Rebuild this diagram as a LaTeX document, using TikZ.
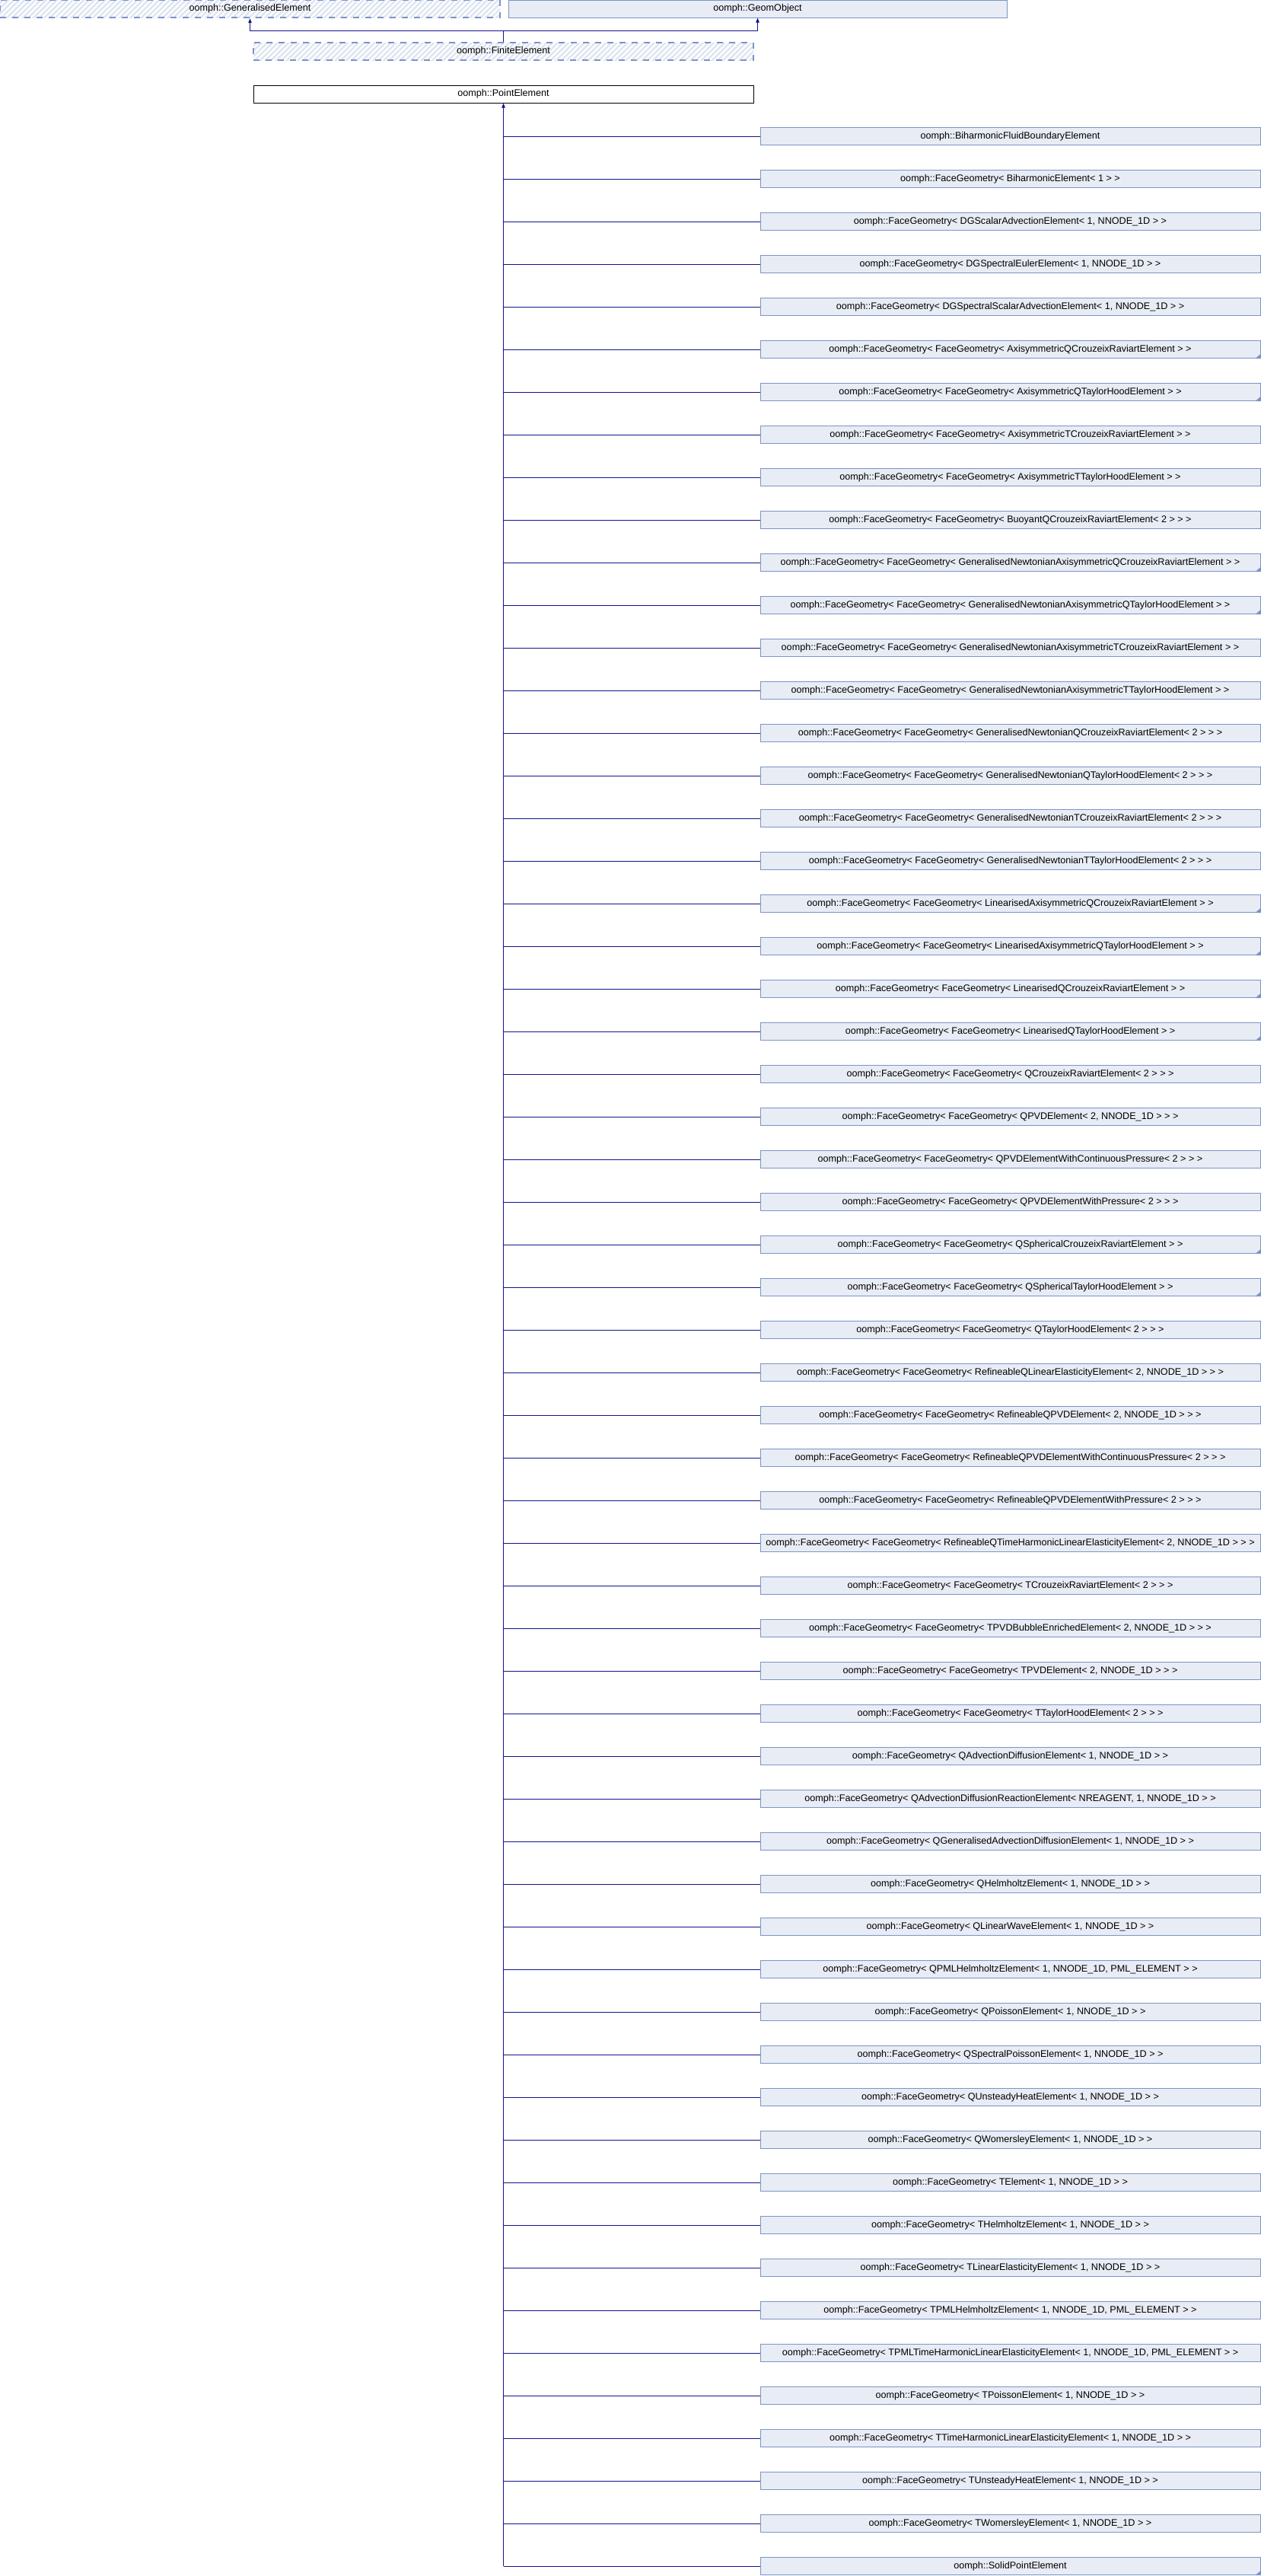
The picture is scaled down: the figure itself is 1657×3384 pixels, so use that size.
\documentclass[tikz,border=0pt]{standalone}
\usepackage{fontspec}
\setmainfont{Liberation Sans}
\usetikzlibrary{arrows.meta,patterns.meta}
\definecolor{boxfill}{RGB}{232,236,245}
\definecolor{boxdraw}{RGB}{123,148,199}
\definecolor{hatchcol}{RGB}{222,229,241}
\definecolor{edgecol}{RGB}{20,20,140}
\begin{document}
\begin{tikzpicture}[x=0.5pt,y=-0.5pt,
  every node/.style={font=\fontsize{6.3pt}{7pt}\selectfont, inner sep=0pt, text=black},
  cls/.style={draw=boxdraw, fill=boxfill, line width=0.5pt, minimum width=328.5pt, minimum height=11.5pt},
  hatched/.style={draw=boxdraw, dash pattern=on 4pt off 4pt, line width=0.6pt, preaction={fill=white}, pattern={Lines[angle=45,distance=2.5pt,line width=1.2pt]}, pattern color=hatchcol, minimum width=328.5pt, minimum height=11.5pt},
  current/.style={draw=black, fill=white, line width=0.5pt, minimum width=328.5pt, minimum height=11.5pt},
  conn/.style={draw=edgecol, line width=0.5pt},
  inh/.style={conn, -{Triangle[length=3pt,width=2.2pt]}},
]
\fill[white] (0,0) rectangle (1657,3384);
\useasboundingbox (0,0) rectangle (1657,3384);
\node[hatched] (ge) at (328.5,11.5) {oomph::GeneralisedElement};
\node[cls, minimum width=327.5pt] (go) at (995.5,11.5) {oomph::GeomObject};
\node[hatched] (fe) at (661.5,67.5) {oomph::FiniteElement};
\node[current] (pe) at (661.5,123.5) {oomph::PointElement};
\coordinate (j) at (661.5,40.5);
\draw[conn] (fe.north) -- (j);
\draw[inh] (j) -| (ge.south);
\draw[inh] (j) -| (go.south);
\foreach \i/\t in {
1/{oomph::BiharmonicFluidBoundaryElement},
2/{oomph::FaceGeometry< BiharmonicElement< 1 > >},
3/{oomph::FaceGeometry< DGScalarAdvectionElement< 1, NNODE\_1D > >},
4/{oomph::FaceGeometry< DGSpectralEulerElement< 1, NNODE\_1D > >},
5/{oomph::FaceGeometry< DGSpectralScalarAdvectionElement< 1, NNODE\_1D > >},
6/{oomph::FaceGeometry< FaceGeometry< AxisymmetricQCrouzeixRaviartElement > >},
7/{oomph::FaceGeometry< FaceGeometry< AxisymmetricQTaylorHoodElement > >},
8/{oomph::FaceGeometry< FaceGeometry< AxisymmetricTCrouzeixRaviartElement > >},
9/{oomph::FaceGeometry< FaceGeometry< AxisymmetricTTaylorHoodElement > >},
10/{oomph::FaceGeometry< FaceGeometry< BuoyantQCrouzeixRaviartElement< 2 > > >},
11/{oomph::FaceGeometry< FaceGeometry< GeneralisedNewtonianAxisymmetricQCrouzeixRaviartElement > >},
12/{oomph::FaceGeometry< FaceGeometry< GeneralisedNewtonianAxisymmetricQTaylorHoodElement > >},
13/{oomph::FaceGeometry< FaceGeometry< GeneralisedNewtonianAxisymmetricTCrouzeixRaviartElement > >},
14/{oomph::FaceGeometry< FaceGeometry< GeneralisedNewtonianAxisymmetricTTaylorHoodElement > >},
15/{oomph::FaceGeometry< FaceGeometry< GeneralisedNewtonianQCrouzeixRaviartElement< 2 > > >},
16/{oomph::FaceGeometry< FaceGeometry< GeneralisedNewtonianQTaylorHoodElement< 2 > > >},
17/{oomph::FaceGeometry< FaceGeometry< GeneralisedNewtonianTCrouzeixRaviartElement< 2 > > >},
18/{oomph::FaceGeometry< FaceGeometry< GeneralisedNewtonianTTaylorHoodElement< 2 > > >},
19/{oomph::FaceGeometry< FaceGeometry< LinearisedAxisymmetricQCrouzeixRaviartElement > >},
20/{oomph::FaceGeometry< FaceGeometry< LinearisedAxisymmetricQTaylorHoodElement > >},
21/{oomph::FaceGeometry< FaceGeometry< LinearisedQCrouzeixRaviartElement > >},
22/{oomph::FaceGeometry< FaceGeometry< LinearisedQTaylorHoodElement > >},
23/{oomph::FaceGeometry< FaceGeometry< QCrouzeixRaviartElement< 2 > > >},
24/{oomph::FaceGeometry< FaceGeometry< QPVDElement< 2, NNODE\_1D > > >},
25/{oomph::FaceGeometry< FaceGeometry< QPVDElementWithContinuousPressure< 2 > > >},
26/{oomph::FaceGeometry< FaceGeometry< QPVDElementWithPressure< 2 > > >},
27/{oomph::FaceGeometry< FaceGeometry< QSphericalCrouzeixRaviartElement > >},
28/{oomph::FaceGeometry< FaceGeometry< QSphericalTaylorHoodElement > >},
29/{oomph::FaceGeometry< FaceGeometry< QTaylorHoodElement< 2 > > >},
30/{oomph::FaceGeometry< FaceGeometry< RefineableQLinearElasticityElement< 2, NNODE\_1D > > >},
31/{oomph::FaceGeometry< FaceGeometry< RefineableQPVDElement< 2, NNODE\_1D > > >},
32/{oomph::FaceGeometry< FaceGeometry< RefineableQPVDElementWithContinuousPressure< 2 > > >},
33/{oomph::FaceGeometry< FaceGeometry< RefineableQPVDElementWithPressure< 2 > > >},
34/{oomph::FaceGeometry< FaceGeometry< RefineableQTimeHarmonicLinearElasticityElement< 2, NNODE\_1D > > >},
35/{oomph::FaceGeometry< FaceGeometry< TCrouzeixRaviartElement< 2 > > >},
36/{oomph::FaceGeometry< FaceGeometry< TPVDBubbleEnrichedElement< 2, NNODE\_1D > > >},
37/{oomph::FaceGeometry< FaceGeometry< TPVDElement< 2, NNODE\_1D > > >},
38/{oomph::FaceGeometry< FaceGeometry< TTaylorHoodElement< 2 > > >},
39/{oomph::FaceGeometry< QAdvectionDiffusionElement< 1, NNODE\_1D > >},
40/{oomph::FaceGeometry< QAdvectionDiffusionReactionElement< NREAGENT, 1, NNODE\_1D > >},
41/{oomph::FaceGeometry< QGeneralisedAdvectionDiffusionElement< 1, NNODE\_1D > >},
42/{oomph::FaceGeometry< QHelmholtzElement< 1, NNODE\_1D > >},
43/{oomph::FaceGeometry< QLinearWaveElement< 1, NNODE\_1D > >},
44/{oomph::FaceGeometry< QPMLHelmholtzElement< 1, NNODE\_1D, PML\_ELEMENT > >},
45/{oomph::FaceGeometry< QPoissonElement< 1, NNODE\_1D > >},
46/{oomph::FaceGeometry< QSpectralPoissonElement< 1, NNODE\_1D > >},
47/{oomph::FaceGeometry< QUnsteadyHeatElement< 1, NNODE\_1D > >},
48/{oomph::FaceGeometry< QWomersleyElement< 1, NNODE\_1D > >},
49/{oomph::FaceGeometry< TElement< 1, NNODE\_1D > >},
50/{oomph::FaceGeometry< THelmholtzElement< 1, NNODE\_1D > >},
51/{oomph::FaceGeometry< TLinearElasticityElement< 1, NNODE\_1D > >},
52/{oomph::FaceGeometry< TPMLHelmholtzElement< 1, NNODE\_1D, PML\_ELEMENT > >},
53/{oomph::FaceGeometry< TPMLTimeHarmonicLinearElasticityElement< 1, NNODE\_1D, PML\_ELEMENT > >},
54/{oomph::FaceGeometry< TPoissonElement< 1, NNODE\_1D > >},
55/{oomph::FaceGeometry< TTimeHarmonicLinearElasticityElement< 1, NNODE\_1D > >},
56/{oomph::FaceGeometry< TUnsteadyHeatElement< 1, NNODE\_1D > >},
57/{oomph::FaceGeometry< TWomersleyElement< 1, NNODE\_1D > >},
58/{oomph::SolidPointElement}}
{\node[cls] (c\i) at (1327.5,{179+56*(\i-1)}) {\t};}
\foreach \i in {1,...,58} {\draw[conn] (pe.south |- c\i.west) -- (c\i.west);}
\draw[inh] (pe.south |- c58.west) -- (pe.south);
\foreach \i in {6,7,11,12,19,20,21,22,27,28,58} {\fill[boxdraw] (c\i.south east) -- ++(-7,0) -- ++(7,-6) -- cycle;}
\end{tikzpicture}
\end{document}
